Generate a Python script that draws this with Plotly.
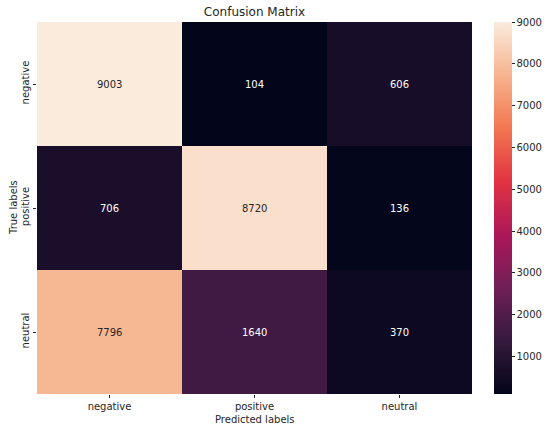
import plotly.graph_objects as go

pred_labels = ["negative", "positive", "neutral"]
true_labels = ["negative", "positive", "neutral"]
counts = [
    [9003, 104, 606],
    [706, 8720, 136],
    [7796, 1640, 370],
]
cbar_ticks = [1000, 2000, 3000, 4000, 5000, 6000, 7000, 8000, 9000]

rocket = [
    [0.0, "#03051a"],
    [1/7, "#35193e"],
    [2/7, "#701f57"],
    [3/7, "#ad1759"],
    [4/7, "#e13342"],
    [5/7, "#f37651"],
    [6/7, "#f6b48f"],
    [1.0, "#faebdd"],
]

W, H = 550, 430
L, R, T, B = 37, 78, 22, 36
PW = W - L - R
PH = H - T - B

zmin = min(min(r) for r in counts)
zmax = max(max(r) for r in counts)

fig = go.Figure()
fig.add_trace(go.Heatmap(
    z=counts, x=pred_labels, y=true_labels,
    colorscale=rocket, zmin=zmin, zmax=zmax,
    xgap=0, ygap=0,
    colorbar=dict(
        x=(494 - L) / PW, xanchor="left", xref="paper", xpad=0, ypad=0,
        y=0.5, yanchor="middle", len=1, lenmode="fraction",
        thickness=18, outlinewidth=0,
        tickvals=cbar_ticks, ticks="outside", ticklen=3,
        tickcolor="#262626",
        tickfont=dict(family="DejaVu Sans", size=10, color="#262626"),
    ),
    hoverinfo="skip",
))

annotations = []
for i, row in enumerate(counts):
    for j, v in enumerate(row):
        frac = (v - zmin) / (zmax - zmin)
        col = "#262626" if frac > 0.7 else "white"
        annotations.append(dict(
            x=pred_labels[j], y=true_labels[i], text=str(v),
            showarrow=False, xref="x", yref="y",
            font=dict(family="DejaVu Sans", size=10, color=col),
        ))

annotations.append(dict(
    text="Predicted labels", xref="paper", yref="paper",
    x=0.5, y=-(419 - (H - B)) / PH, xanchor="center", yanchor="middle",
    showarrow=False, font=dict(family="DejaVu Sans", size=10, color="#262626"),
))
annotations.append(dict(
    text="True labels", xref="paper", yref="paper",
    x=-(L - 13) / PW, y=0.5, xanchor="center", yanchor="middle",
    textangle=-90,
    showarrow=False, font=dict(family="DejaVu Sans", size=10, color="#262626"),
))

fig.update_layout(
    width=W, height=H,
    margin=dict(l=L, r=R, t=T, b=B, autoexpand=False),
    paper_bgcolor="white", plot_bgcolor="white",
    title=dict(text="Confusion Matrix", x=(L + W - R) / 2 / W, xanchor="center",
               y=1 - 12 / H, yanchor="middle",
               font=dict(family="DejaVu Sans", size=12, color="#262626")),
    font=dict(family="DejaVu Sans", size=10, color="#262626"),
    annotations=annotations,
    xaxis=dict(automargin=False,
               ticks="outside", ticklen=3, tickcolor="#262626",
               showgrid=False, zeroline=False, showline=False),
    yaxis=dict(automargin=False,
               autorange="reversed", tickangle=-90,
               ticks="outside", ticklen=3, tickcolor="#262626",
               showgrid=False, zeroline=False, showline=False),
)

fig.write_html("out.html",
               config={"displayModeBar": False},
               post_script="document.body.style.margin='0';document.body.style.overflow='hidden';")
